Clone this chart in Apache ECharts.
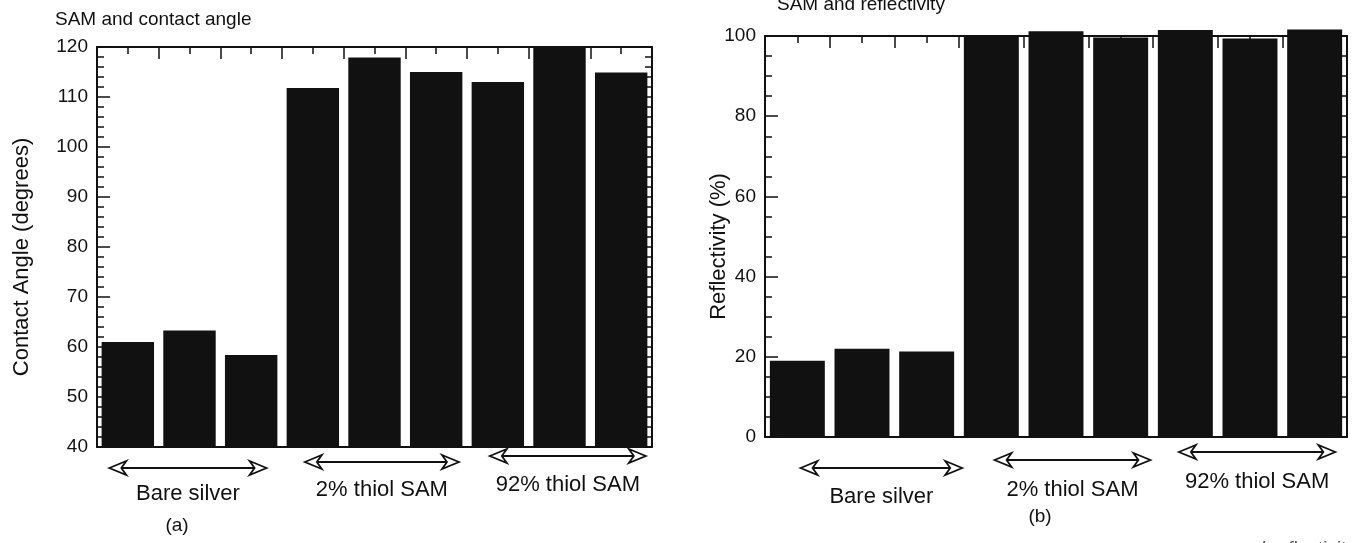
<!DOCTYPE html>
<html>
<head>
<meta charset="utf-8">
<title>SAM and contact angle / reflectivity</title>
<script src="https://cdn.jsdelivr.net/npm/echarts@6/dist/echarts.min.js"></script>
<style>
html, body { margin: 0; padding: 0; background: #fff; }
#chart { width: 1358px; height: 543px; }
</style>
</head>
<body>
<div id="chart"></div>
<script>
// nine samples, three per surface type
const samples = ['1', '2', '3', '4', '5', '6', '7', '8', '9'];
const groups = ['Bare silver', '2% thiol SAM', '92% thiol SAM'];
const contactAngle = [61, 63.3, 58.4, 111.8, 117.9, 115.0, 113.0, 121, 114.9];
const reflectivity = [19, 22, 21.3, 100.2, 101.2, 99.6, 101.5, 99.4, 101.6];
const angleRange = [40, 120, 10];
const reflRange = [0, 100, 20];

const font = '"Liberation Sans", Arial, Helvetica, sans-serif';
const ink = '#111';

const chart = echarts.init(document.getElementById('chart'));

const panels = [
    { grid: { left: 97, top: 47, width: 555, height: 400 }, range: angleRange, minor: 5, clip: true,
      name: 'Contact Angle (degrees)', nameGap: 64, data: contactAngle,
      title: 'SAM and contact angle', titleX: 55, titleY: 20, tag: '(a)', tagX: 177, tagY: 526,
      arrows: [[-0.3, 2.25, 21, 47], [-0.13, 2.37, 15, 43], [-0.13, 2.4, 9, 38]] },
    { grid: { left: 765, top: 36, width: 582, height: 401 }, range: reflRange, minor: 4, clip: false,
      name: 'Reflectivity (%)', nameGap: 35, data: reflectivity,
      title: 'SAM and reflectivity', titleX: 777, titleY: 5, tag: '(b)', tagX: 1040, tagY: 517,
      arrows: [[0.05, 2.55, 31, 60], [0.05, 2.46, 23, 53], [-0.1, 2.32, 15, 45]] }
];

const xAxis = [], yAxis = [], series = [];
panels.forEach((p, gi) => {
    xAxis.push({
        type: 'category', gridIndex: gi, data: samples, position: 'bottom',
        axisLine: { onZero: false, lineStyle: { color: ink, width: 2 } },
        axisTick: { inside: true, length: 14, lineStyle: { color: ink, width: 1.5 } },
        axisLabel: { show: false }
    });
    xAxis.push({
        type: 'value', gridIndex: gi, position: 'top', min: 0, max: 9, interval: 1,
        axisLine: { show: true, onZero: false, lineStyle: { color: ink, width: 2 } },
        axisTick: { show: true, inside: true, length: 12, lineStyle: { color: ink, width: 1.5 } },
        minorTick: { show: true, splitNumber: 2, length: 7, lineStyle: { color: ink, width: 1.5 } },
        axisLabel: { show: false },
        splitLine: { show: false }
    });
    ['left', 'right'].forEach(pos => {
        yAxis.push({
            type: 'value', gridIndex: gi, position: pos,
            min: p.range[0], max: p.range[1], interval: p.range[2],
            name: pos == 'left' ? p.name : '',
            nameLocation: 'middle', nameGap: p.nameGap, nameMoveOverlap: false,
            nameTextStyle: { fontFamily: font, fontSize: 22, color: ink, padding: [0, 20, 0, 0] },
            axisLine: { show: true, onZero: false, lineStyle: { color: ink, width: 2 } },
            axisTick: { show: true, inside: true, length: 13, lineStyle: { color: ink, width: 1.5 } },
            minorTick: { show: true, splitNumber: p.minor, length: 7, lineStyle: { color: ink, width: 1.5 } },
            axisLabel: { show: pos == 'left', fontFamily: font, fontSize: 19, color: ink, margin: 9 },
            splitLine: { show: false }
        });
    });
    series.push({
        type: 'bar', xAxisIndex: gi * 2, yAxisIndex: gi * 2, data: p.data,
        barCategoryGap: '15%', clip: p.clip, silent: true,
        itemStyle: { color: ink }
    });
});

chart.setOption({
    animation: false,
    grid: panels.map(p => p.grid),
    xAxis: xAxis,
    yAxis: yAxis,
    series: series
});

// open-headed double arrows and group names under each panel
function arrow(x1, x2, y) {
    const h = 17, w = 7;
    return [
        { type: 'line', shape: { x1: x1 + h - 5, y1: y, x2: x2 - h + 5, y2: y }, style: { stroke: ink, lineWidth: 2 } },
        { type: 'polygon', shape: { points: [[x1, y], [x1 + h, y - w], [x1 + h - 5, y], [x1 + h, y + w]] },
          style: { fill: '#fff', stroke: ink, lineWidth: 1.8 } },
        { type: 'polygon', shape: { points: [[x2, y], [x2 - h, y - w], [x2 - h + 5, y], [x2 - h, y + w]] },
          style: { fill: '#fff', stroke: ink, lineWidth: 1.8 } }
    ];
}

const graphic = [];
panels.forEach((p, gi) => {
    const band = p.grid.width / samples.length;
    const bottom = p.grid.top + p.grid.height;
    groups.forEach((g, k) => {
        const a = p.arrows[k];
        const x1 = chart.convertToPixel({ xAxisIndex: gi * 2 }, k * 3) + a[0] * band;
        const x2 = chart.convertToPixel({ xAxisIndex: gi * 2 }, k * 3) + a[1] * band;
        graphic.push(...arrow(x1, x2, bottom + a[2]));
        graphic.push({ type: 'text', x: (x1 + x2) / 2, y: bottom + a[3],
            style: { text: g, font: '22px ' + font, fill: ink, align: 'center', verticalAlign: 'middle' } });
    });
    graphic.push({ type: 'text', x: p.titleX, y: p.titleY,
        style: { text: p.title, font: '19px ' + font, fill: ink, align: 'left', verticalAlign: 'middle' } });
    graphic.push({ type: 'text', x: p.tagX, y: p.tagY,
        style: { text: p.tag, font: '19px ' + font, fill: ink, align: 'center', verticalAlign: 'middle' } });
});
graphic.push({ type: 'text', x: 1356, y: 539,
    style: { text: 'and reflectivity', font: '19px ' + font, fill: '#555', align: 'right', verticalAlign: 'top' } });

chart.setOption({ graphic: graphic });
</script>
</body>
</html>
